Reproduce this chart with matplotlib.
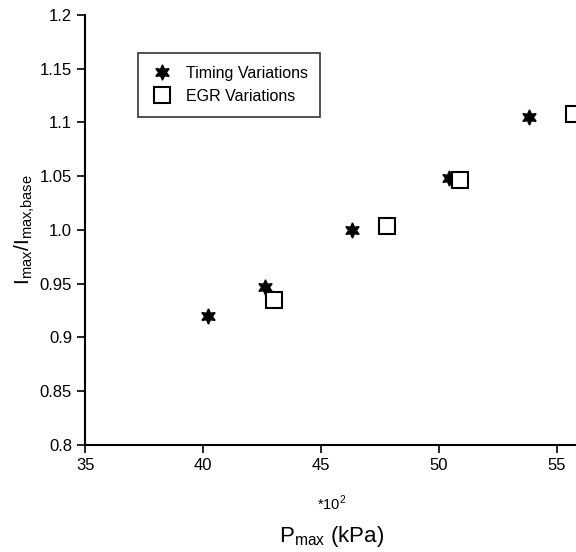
import matplotlib.pyplot as plt

plt.rcParams['font.family'] = ['Liberation Sans', 'DejaVu Sans']
plt.rcParams['mathtext.fontset'] = 'custom'
plt.rcParams['mathtext.rm'] = 'Liberation Sans'

# Timing variations
p_timing = [40.2, 42.6, 46.3, 50.4, 53.8]
i_timing = [0.920, 0.947, 1.000, 1.048, 1.105]

# EGR variations
p_egr = [43.0, 47.8, 50.9, 55.7]
i_egr = [0.935, 1.004, 1.046, 1.108]

yticks = [0.8, 0.85, 0.9, 0.95, 1.0, 1.05, 1.1, 1.15, 1.2]
ylabels = ['0.8', '0.85', '0.9', '0.95', '1.0', '1.05', '1.1', '1.15', '1.2']

fig = plt.figure(figsize=(5.76, 5.52), dpi=100)
ax = fig.add_axes([0.148, 0.194, 0.856, 0.779])

ax.plot(p_timing, i_timing, ls='none', marker=(6, 1, 0), ms=11, color='k',
        label='Timing Variations')
ax.plot(p_egr, i_egr, ls='none', marker='s', ms=11, mfc='white', mec='k',
        mew=1.5, label='EGR Variations')

ax.set_xlim(35, 55.9)
ax.set_ylim(0.8, 1.2)
ax.set_xticks([35, 40, 45, 50, 55])
ax.set_yticks(yticks)
ax.set_yticklabels(ylabels)
ax.tick_params(direction='out', length=6, width=1.2, labelsize=12)

for s in ['top', 'right']:
    ax.spines[s].set_visible(False)
for s in ['left', 'bottom']:
    ax.spines[s].set_linewidth(1.5)

ax.set_ylabel(r'I$_{\rm max}$/I$_{\rm max{,}base}$', fontsize=15, labelpad=2)
ax.set_xlabel(r'P$_{\rm max}$ (kPa)', fontsize=16, labelpad=37)
fig.text(0.575, 0.089, r'*10$^2$', ha='center', va='center', fontsize=10.5)

leg = ax.legend(loc='upper left', bbox_to_anchor=(0.09, 0.93),
                frameon=True, fancybox=False, edgecolor='k', fontsize=11.5,
                borderpad=0.8, handletextpad=0.7, labelspacing=0.5,
                handlelength=1.5)
leg.get_frame().set_linewidth(1.2)

plt.savefig('out.png', dpi=100)
